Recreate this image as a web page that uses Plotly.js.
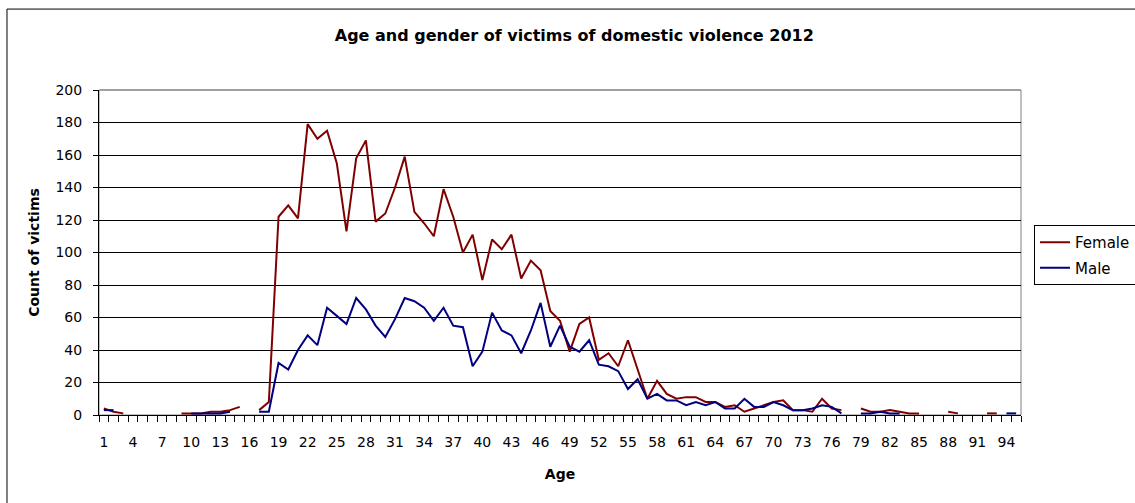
<!DOCTYPE html>
<html>
<head>
<meta charset="utf-8">
<script src="https://cdn.plot.ly/plotly-3.0.1.min.js"></script>
<style>html,body{margin:0;padding:0;background:#fff;}#chart{width:1135px;height:503px;}</style>
</head>
<body>
<div id="chart"></div>
<script>
// Ages 1..95 (categories)
const ages = [];
for (let a = 1; a <= 95; a++) ages.push(a);

// Female counts by age (null = no data)
const female = [
  4, 2, 1, null, null, null, null, null, 1, 1,
  1, 2, 2, 3, 5, null, 3, 8, 122, 129,
  121, 179, 170, 175, 155, 113, 158, 169, 119, 124,
  140, 159, 125, 118, 110, 139, 122, 100, 111, 83,
  108, 102, 111, 84, 95, 89, 64, 58, 39, 56,
  60, 34, 38, 30, 46, 28, 10, 21, 13, 10,
  11, 11, 8, 8, 5, 6, 2, 4, 6, 8,
  9, 3, 3, 2, 10, 4, 3, null, 4, 2,
  2, 3, 2, 1, 1, null, null, 2, 1, null,
  null, 1, 1, null, null
];

// Male counts by age
const male = [
  3, 3, null, null, null, null, null, null, null, 1,
  1, 1, 1, 2, null, null, 2, 2, 32, 28,
  40, 49, 43, 66, 61, 56, 72, 65, 55, 48,
  59, 72, 70, 66, 58, 66, 55, 54, 30, 39,
  63, 52, 49, 38, 52, 69, 42, 55, 42, 39,
  46, 31, 30, 27, 16, 22, 10, 13, 9, 9,
  6, 8, 6, 8, 4, 4, 10, 5, 5, 8,
  6, 3, 3, 4, 6, 5, 1, null, 1, 1,
  2, 1, 1, null, null, null, null, null, null, null,
  null, null, null, 1, 1
];

const seriesNames = ["Female", "Male"];
const seriesColors = ["#800000", "#000080"];
const FONT = "DejaVu Sans, Liberation Sans, Arial, sans-serif";

const traces = [female, male].map((vals, i) => ({
  type: "scatter",
  mode: "lines",
  x: ages,
  y: vals,
  name: seriesNames[i],
  legendgroup: "g" + i,
  line: {color: seriesColors[i], width: 2},
  connectgaps: false
}));

const layout = {
  width: 1135,
  height: 503,
  margin: {l: 99, r: 114, t: 90, b: 88},
  paper_bgcolor: "#ffffff",
  plot_bgcolor: "#ffffff",
  font: {family: FONT, size: 14, color: "#000"},
  title: {
    text: "<b>Age and gender of victims of domestic violence 2012</b>",
    font: {family: FONT, size: 16, color: "#000"},
    x: 0.506, xref: "container", xanchor: "center",
    y: 0.93, yref: "container", yanchor: "middle"
  },
  xaxis: {
    range: [0.5, 95.5],
    tickmode: "linear", tick0: 1, dtick: 3,
    ticks: "",
    showgrid: false,
    zeroline: false,
    showline: true, linecolor: "#000", linewidth: 1,
    tickfont: {family: FONT, size: 14, color: "#000"},
    ticklabelstandoff: 14,
    minor: {ticks: "outside", ticklen: 6, tickcolor: "#000", tickwidth: 1, tick0: 0.5, dtick: 1, showgrid: false},
    title: {text: "<b>Age</b>", font: {family: FONT, size: 14, color: "#000"}, standoff: 20}
  },
  yaxis: {
    range: [0, 200],
    tickmode: "linear", tick0: 0, dtick: 20,
    ticks: "outside", ticklen: 5, tickcolor: "#000",
    showgrid: true, gridcolor: "#000", gridwidth: 1,
    zeroline: false,
    showline: true, linecolor: "#000", linewidth: 1,
    tickfont: {family: FONT, size: 14, color: "#000"},
    ticklabelstandoff: 8,
    title: {text: "<b>Count of victims</b>", font: {family: FONT, size: 14, color: "#000"}, standoff: 12}
  },
  legend: {
    xref: "container", yref: "container",
    x: 1034 / 1135, xanchor: "left", y: 1 - 225 / 503, yanchor: "top",
    bordercolor: "#000", borderwidth: 1, bgcolor: "#fff",
    font: {family: FONT, size: 15, color: "#000"},
    tracegroupgap: 3
  },
  shapes: [
    {type: "rect", xref: "paper", yref: "paper", x0: 0, x1: 1, y0: 0, y1: 1,
     line: {color: "#808080", width: 1}, layer: "below"},
    {type: "line", xref: "paper", yref: "paper", x0: 0.001, x1: 1, y0: 1, y1: 1,
     line: {color: "#808080", width: 1}, layer: "above"},
    {type: "rect", xref: "paper", yref: "paper", x0: -0.0998, x1: 1.13, y0: -0.3, y1: 1.249,
     line: {color: "#000", width: 1}, layer: "below"}
  ],
  showlegend: true
};

Plotly.newPlot("chart", traces, layout, {displayModeBar: false, staticPlot: true});
</script>
</body>
</html>
